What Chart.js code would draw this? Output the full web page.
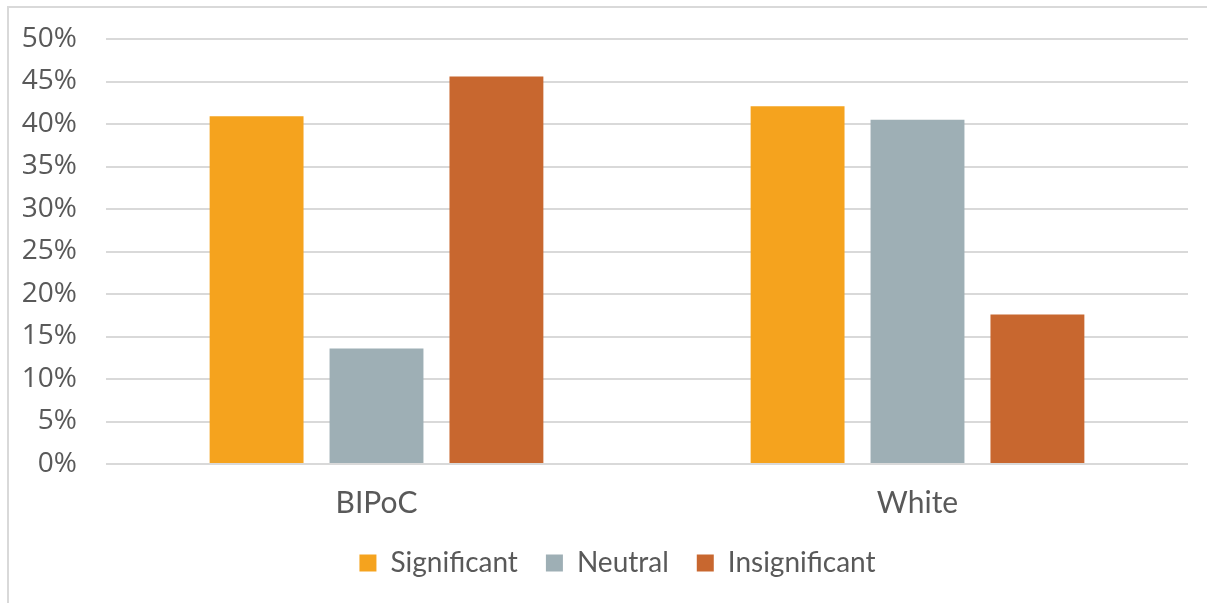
<!DOCTYPE html>
<html>
<head>
<meta charset="utf-8">
<script src="https://cdn.jsdelivr.net/npm/chart.js@4/dist/chart.umd.min.js"></script>
<style>
    html, body { margin: 0; padding: 0; background: #fff; overflow: hidden; }
    #frame {
        position: absolute;
        left: 7px;
        top: 6px;
        width: 1200px;
        height: 597px;
        border-left: 2px solid #d9d9d9;
        border-top: 2px solid #d9d9d9;
    }
    #wrap { position: relative; width: 1198px; height: 595px; }
</style>
</head>
<body>
<div id="frame"><div id="wrap"><canvas id="groupChart"></canvas></div></div>
<script>
// Share of respondents by group and rating
const groups = ['BIPoC', 'White'];
const significant = [40.9, 42.1];
const neutral = [13.6, 40.5];
const insignificant = [45.6, 17.6];
const yTicks = [0, 5, 10, 15, 20, 25, 30, 35, 40, 45, 50];

const textGrey = '#595959';

// Nudge the legend a bit to the right, like the original.
const legendShift = {
    id: 'legendShift',
    afterLayout(chart) {
        const lg = chart.legend;
        if (lg) {
            lg.left += 19;
            lg.right += 19;
        }
    }
};

const ctx = document.getElementById('groupChart').getContext('2d');
const chartData = {
    labels: groups,
    datasets: [
        { label: 'Significant', data: significant, backgroundColor: '#f5a31e' },
        { label: 'Neutral', data: neutral, backgroundColor: '#9eafb5' },
        { label: 'Insignificant', data: insignificant, backgroundColor: '#c8672f' }
    ]
};

const config = {
    type: 'bar',
    data: chartData,
    options: {
        responsive: true,
        maintainAspectRatio: false,
        animation: false,
        layout: {
            padding: { top: 31, right: 19, bottom: 16, left: 0 }
        },
        datasets: {
            bar: {
                categoryPercentage: 0.665,
                barPercentage: 0.783
            }
        },
        scales: {
            x: {
                afterFit: function(scale) { scale.height = 57; },
                grid: { display: false, drawTicks: false },
                border: { display: false },
                ticks: {
                    color: textGrey,
                    padding: 21,
                    font: { family: 'Lato', size: 30 }
                }
            },
            y: {
                min: 0,
                max: 50,
                afterFit: function(scale) {
                    scale.width = 97;
                    scale.paddingTop = 0;
                },
                afterBuildTicks: function(scale) {
                    scale.ticks = yTicks.map(v => ({ value: v }));
                },
                grid: { color: '#d9d9d9', lineWidth: 2, drawTicks: false },
                border: { display: false },
                ticks: {
                    color: textGrey,
                    padding: 29,
                    font: { family: 'Open Sans', size: 28 },
                    callback: function(value) { return value + '%'; }
                }
            }
        },
        plugins: {
            legend: {
                position: 'bottom',
                labels: {
                    color: textGrey,
                    boxWidth: 17,
                    boxHeight: 17,
                    padding: 28,
                    font: { family: 'Lato', size: 28 }
                }
            },
            tooltip: { enabled: false }
        }
    },
    plugins: [legendShift]
};

new Chart(ctx, config);
</script>
</body>
</html>
